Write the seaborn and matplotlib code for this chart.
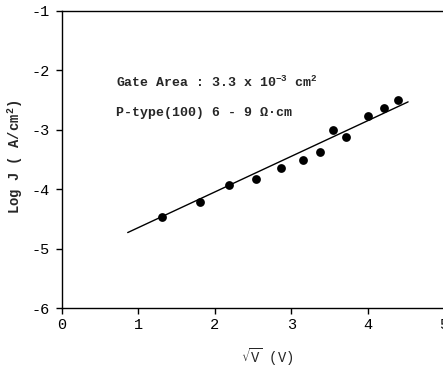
import matplotlib
matplotlib.use("Agg")
import matplotlib.pyplot as plt
import seaborn as sns
import pandas as pd

sqrt_v = [1.31, 1.80, 2.18, 2.54, 2.86, 3.15, 3.38, 3.55, 3.72, 4.01, 4.21, 4.40]
log_j = [-4.46, -4.22, -3.93, -3.82, -3.65, -3.51, -3.37, -3.00, -3.12, -2.76, -2.64, -2.49]
fit_x = [0.86, 4.53]
fit_y = [-4.73, -2.53]
x_ticks = [0, 1, 2, 3, 4, 5]
y_ticks = [-6, -5, -4, -3, -2, -1]

sns.set_style("ticks")
plt.rcParams['font.family'] = ['Liberation Mono', 'DejaVu Sans']
plt.rcParams['mathtext.default'] = 'regular'

fig = plt.figure(figsize=(4.43, 3.67), dpi=100)
ax = fig.add_axes([62/443, 59/367, 382/443, 297/367])

df = pd.DataFrame({"x": sqrt_v, "y": log_j})
fit = pd.DataFrame({"x": fit_x, "y": fit_y})
sns.lineplot(data=fit, x="x", y="y", ax=ax, color="black", linewidth=1.0)
sns.scatterplot(data=df, x="x", y="y", ax=ax, color="black", s=40, edgecolor="black", linewidth=0)

ax.set_xlim(0, 5)
ax.set_ylim(-6, -1)
ax.set_xticks(x_ticks)
ax.set_yticks(y_ticks)
ax.set_xticklabels([str(t) for t in x_ticks])
ax.set_yticklabels([str(t) for t in y_ticks])
ax.tick_params(direction="out", length=4, width=1, labelsize=11, colors="black")
ax.tick_params(axis="x", pad=3)
ax.tick_params(axis="y", pad=5)
for s in ax.spines.values():
    s.set_color("black")
    s.set_linewidth(1.0)

ax.set_xlabel("")
ax.set_ylabel("")
fig.text(267/443, 1 - 357/367, r"$\sqrt{V}$ (V)", fontsize=10, ha="center", va="center")
fig.text(15/443, 1 - 157/367, "Log J ( A/cm$^2$)", fontsize=10, ha="center", va="center",
         rotation=90, fontweight="bold")

ax.text(0.71, -2.21, "Gate Area : 3.3 x 10$^{-3}$ cm$^2$", fontsize=9.5,
        fontweight="bold", va="center", ha="left")
ax.text(0.71, -2.72, "P-type(100) 6 - 9 \u03a9\u00b7cm", fontsize=9.5,
        fontweight="bold", va="center", ha="left")

fig.savefig("out.png", dpi=100)
